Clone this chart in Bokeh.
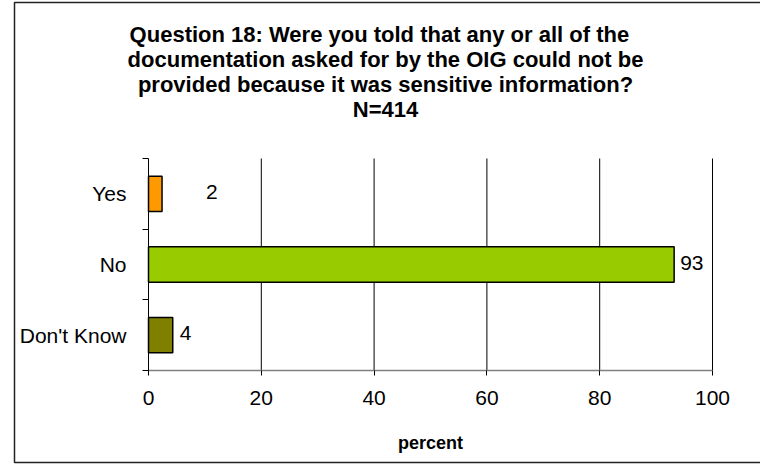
from bokeh.plotting import figure
from bokeh.models import Range1d, FixedTicker, ColumnDataSource, Label, BoxAnnotation, LinearAxis
from bokeh.core.properties import value
from bokeh.embed import file_html
from bokeh.resources import INLINE

# ---- data ----
categories = ["Yes", "No", "Don't Know"]
percents = [2.4, 93.2, 4.3]
value_labels = ["2", "93", "4"]
bar_colors = ["#FF9900", "#99CC00", "#808000"]
x_ticks = [0, 20, 40, 60, 80, 100]
title_lines = [
    "Question 18:   Were you told that any or all of the",
    "documentation asked for by the OIG could not be",
    "provided because it was sensitive information?",
    "N=414",
]
x_title = "percent"

# ---- layout (page pixels) / style ----
FONT = "Liberation Sans"
W, H = 760, 470
PX0, PX100 = 148, 712      # page x of 0 % and 100 %
PY_TOP, PY_BOT = 158, 370  # page y of top / bottom of category band
label_nudge = [44, 6, 7]   # px offsets of value labels (as in original)

n = len(categories)
sx = (PX100 - PX0) / 100.0
sy = (PY_BOT - PY_TOP) / n


def dx(px):
    return (px - PX0) / sx


def dy(py):
    return (PY_BOT - py) / sy


ypos = [n - i - 0.5 for i in range(n)]

src = ColumnDataSource(dict(y=ypos, pct=percents, lbl=value_labels,
                            color=bar_colors, nudge=label_nudge))
grid_src = ColumnDataSource(dict(gx=x_ticks[1:], g0=[0] * (len(x_ticks) - 1),
                                 g1=[n] * (len(x_ticks) - 1)))

p = figure(width=W, height=H, x_range=Range1d(dx(0), dx(W)), y_range=Range1d(dy(H), dy(0)),
           output_backend="svg", toolbar_location=None,
           x_axis_location=None, y_axis_location=None,
           min_border=0, min_border_left=0, min_border_right=0,
           min_border_top=0, min_border_bottom=0)
p.outline_line_color = None
p.background_fill_color = "white"
p.border_fill_color = "white"
p.grid.visible = False

# vertical gridlines
p.segment(x0="gx", y0="g0", x1="gx", y1="g1", line_color="black", line_width=1,
          source=grid_src)

# bars
p.hbar(y="y", left=0, right="pct", height=0.5, fill_color="color",
       line_color="black", line_width=1.5, source=src)

# value labels
p.text(x="pct", y="y", text="lbl", x_offset="nudge", y_offset=-2, source=src,
       text_font=value(FONT), text_font_size="21px", text_align="left",
       text_baseline="middle", text_color="black")

# x axis (inside the frame, at 0)
xa = LinearAxis(fixed_location=0, bounds=(0, 100), ticker=FixedTicker(ticks=x_ticks))
xa.axis_line_color = "#808080"
xa.axis_line_width = 1.5
xa.major_tick_out = 5
xa.major_tick_in = 0
xa.major_tick_line_color = "black"
xa.minor_tick_line_color = None
xa.major_label_text_font = FONT
xa.major_label_text_font_size = "21px"
xa.major_label_text_color = "black"
xa.major_label_standoff = 15
p.add_layout(xa, "below")

# y axis (inside the frame, at 0)
ya = LinearAxis(fixed_location=0, bounds=(0, n),
                ticker=FixedTicker(ticks=ypos, minor_ticks=list(range(n + 1))))
ya.major_label_overrides = {y: c for y, c in zip(ypos, categories)}
ya.axis_line_color = "black"
ya.axis_line_width = 1
ya.major_tick_out = 0
ya.major_tick_in = 0
ya.minor_tick_out = 6
ya.minor_tick_in = 0
ya.minor_tick_line_color = "black"
ya.major_label_text_font = FONT
ya.major_label_text_font_size = "21px"
ya.major_label_text_color = "black"
ya.major_label_standoff = 16
p.add_layout(ya, "left")

# title lines
baselines = [34, 59, 84, 109]
for t, b in zip(title_lines, baselines):
    p.add_layout(Label(x=dx(385), y=dy(b), text=t, text_align="center",
                       text_baseline="alphabetic", text_font=FONT,
                       text_font_style="bold", text_font_size="22px",
                       text_color="black"))

# x axis title
p.add_layout(Label(x=dx(430), y=dy(442), text=x_title, text_align="center",
                   text_baseline="alphabetic", text_font=FONT,
                   text_font_style="bold", text_font_size="18px", text_color="black"))

# chart border (right edge lies beyond the window, as in the original)
p.add_layout(BoxAnnotation(left=dx(14), right=dx(W + 40), top=dy(2), bottom=dy(462),
                           fill_color=None, fill_alpha=0,
                           line_color="#222222", line_alpha=1.0, line_width=1.5))

open("out.html", "w").write(file_html(p, INLINE))
